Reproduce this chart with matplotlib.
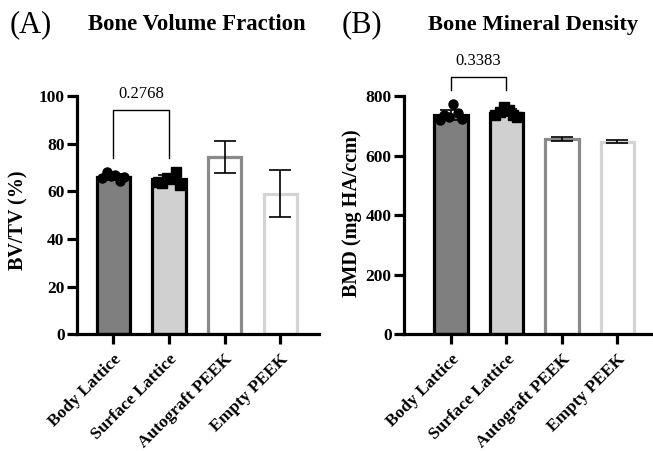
import matplotlib
matplotlib.use("Agg")
import matplotlib.pyplot as plt
import numpy as np

plt.rcParams["font.family"] = ["Liberation Serif", "DejaVu Serif"]

groups = ["Body Lattice", "Surface Lattice", "Autograft PEEK", "Empty PEEK"]

# panel A: BV/TV (%)
bvtv_mean = [66.0, 65.0, 74.5, 59.0]
bvtv_sd = [1.3, 2.0, 6.7, 9.8]
bvtv_body_pts = [65.5, 68.0, 66.5, 66.8, 64.5, 66.0]
bvtv_surf_pts = [64.0, 63.5, 65.5, 65.0, 68.0, 62.5]
bvtv_p = "0.2768"

# panel B: BMD (mg HA/ccm)
bmd_mean = [736.0, 744.0, 655.0, 647.0]
bmd_sd = [18.0, 12.0, 7.0, 4.0]
bmd_body_pts = [718.0, 735.0, 728.0, 775.0, 742.0, 722.0]
bmd_surf_pts = [735.0, 745.0, 762.0, 752.0, 738.0, 730.0]
bmd_p = "0.3383"

FILL = ["#7f7f7f", "#d0d0d0", "white", "white"]
EDGE = ["black", "black", "#8a8a8a", "#d4d4d4"]
LW = 2.3


def panel(ax, mean, sd, body_pts, surf_pts, ptxt, ymax, step, ylabel, bracket, xlim, label_y):
    x = np.arange(len(groups))
    ax.bar(x, mean, width=0.6, color=FILL, edgecolor=EDGE, linewidth=LW, zorder=2)
    ax.errorbar(x, mean, yerr=sd, fmt="none", ecolor="black", elinewidth=1.2,
                capsize=8, capthick=1.2, zorder=3)
    jit = np.linspace(-0.2, 0.2, len(body_pts))
    ax.plot(x[0] + jit, body_pts, "o", color="black", ms=6.5, zorder=4, clip_on=False)
    jit = np.linspace(-0.2, 0.2, len(surf_pts))
    ax.plot(x[1] + jit, surf_pts, "s", color="black", ms=6.5, zorder=4, clip_on=False)

    lo, hi = bracket
    ax.plot([0, 0, 1, 1], [lo, hi, hi, lo], color="black", lw=1.0, clip_on=False)
    ax.text(0.5, hi + ymax * 0.035, ptxt, ha="center", va="bottom", fontsize=12,
            clip_on=False)

    ax.set_ylim(0, ymax)
    ax.set_yticks(np.arange(0, ymax + 1, step))
    ax.set_xlim(*xlim)
    ax.set_xticks(x)
    ax.set_xticklabels(groups, rotation=45, ha="right", rotation_mode="anchor",
                       fontweight="bold", fontsize=12.5)
    for lab in ax.get_yticklabels():
        lab.set_fontweight("bold")
        lab.set_fontsize(12.5)
    ax.set_ylabel(ylabel, fontsize=14.5, fontweight="bold")
    ax.yaxis.set_label_coords(-0.2 if ymax == 100 else -0.17, label_y)
    ax.spines["top"].set_visible(False)
    ax.spines["right"].set_visible(False)
    ax.spines["left"].set_linewidth(LW)
    ax.spines["bottom"].set_linewidth(LW)
    ax.tick_params(axis="y", length=7, width=LW, pad=2)
    ax.tick_params(axis="x", length=7, width=LW, pad=5)


fig = plt.figure(figsize=(6.53, 4.51), dpi=100)
axA = fig.add_axes([0.118, 0.259, 0.371, 0.528])
axB = fig.add_axes([0.619, 0.259, 0.381, 0.528])

panel(axA, bvtv_mean, bvtv_sd, bvtv_body_pts, bvtv_surf_pts, bvtv_p, 100, 20,
      "BV/TV (%)", (74.0, 94.0), (-0.65, 3.7), 0.479)
panel(axB, bmd_mean, bmd_sd, bmd_body_pts, bmd_surf_pts, bmd_p, 800, 200,
      "BMD (mg HA/ccm)", (820.0, 864.0), (-0.84, 3.64), 0.508)

fig.text(0.015, 0.945, "(A)", fontsize=22, va="center", ha="left")
fig.text(0.135, 0.945, "Bone Volume Fraction", fontsize=16.4, fontweight="bold",
         va="center", ha="left")
fig.text(0.523, 0.945, "(B)", fontsize=22, va="center", ha="left")
fig.text(0.655, 0.945, "Bone Mineral Density", fontsize=16.2, fontweight="bold",
         va="center", ha="left")

fig.savefig("out.png", dpi=100)
